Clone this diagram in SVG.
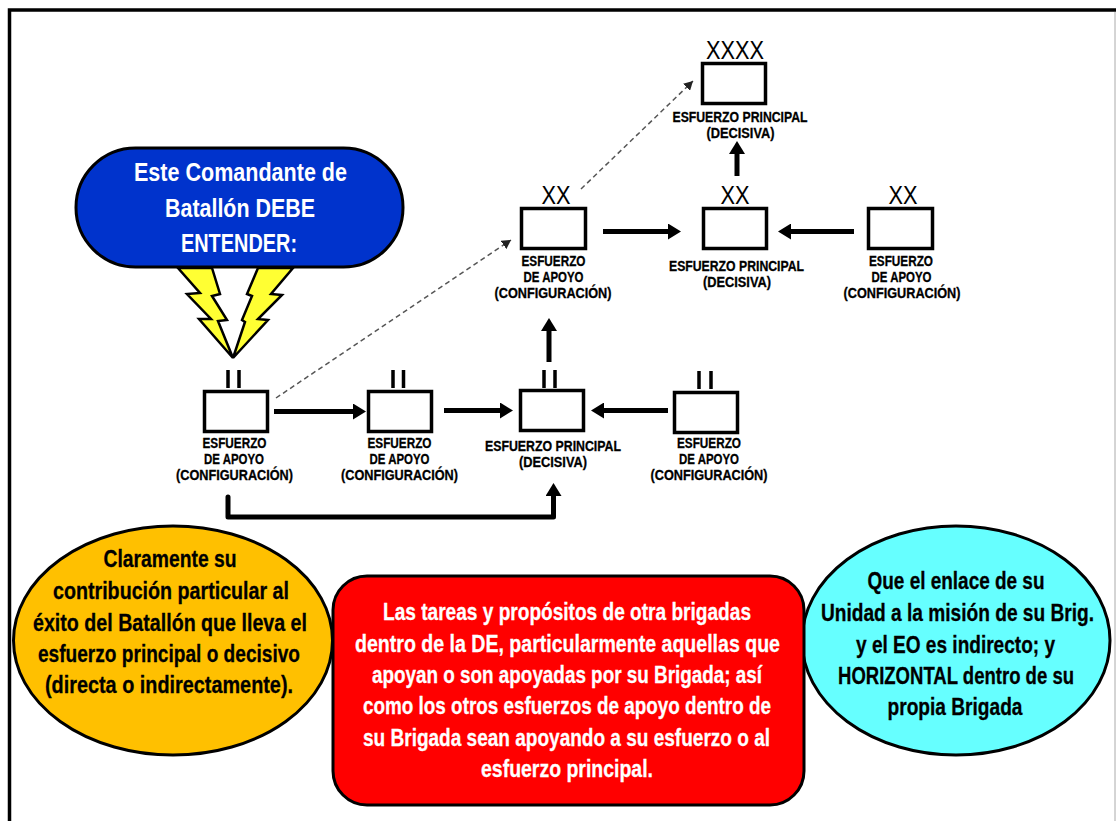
<svg xmlns="http://www.w3.org/2000/svg" width="1116" height="821" viewBox="0 0 1116 821">
<style>
text{font-family:"Liberation Sans Narrow","Liberation Sans",Arial,sans-serif;font-weight:700;text-anchor:middle}
.box{fill:#fff;stroke:#000;stroke-width:3.500}
.lab{font-size:14.500px;fill:#000;stroke:#000;stroke-width:.3}
.ech{font-family:"Liberation Sans",Arial,sans-serif;font-weight:400;font-size:25px;fill:#000}
.bar{stroke:#000;stroke-width:3.500;fill:none}
.big{font-size:26px;fill:#fff}
.red{font-size:24px;fill:#fff;stroke:#fff;stroke-width:.3}
.blk{font-size:24px;fill:#000;stroke:#000;stroke-width:.3}
.c{fill:none;stroke:#000;stroke-width:5}
.d{fill:none;stroke:#555;stroke-width:1.500;stroke-dasharray:5 3.500}
</style>
<defs>
<marker id="ah" markerUnits="userSpaceOnUse" markerWidth="14" markerHeight="16" refX="5" refY="8" orient="auto"><path d="M0 0L13 8L0 16Z" fill="#000"/></marker>
<marker id="ad" markerUnits="userSpaceOnUse" markerWidth="10" markerHeight="10" refX="9" refY="5" orient="auto"><path d="M0 0L9 5L0 10Z" fill="#222"/></marker>
</defs>
<rect width="1116" height="821" fill="#fff"/>
<path d="M9.500 821V10H1116" fill="none" stroke="#000" stroke-width="3.500"/>
<path d="M1115 12V821" fill="none" stroke="#aaa" stroke-width="1"/>
<g id="connectors">
<path class="c" d="M274 411.500H358" marker-end="url(#ah)"/>
<path class="c" d="M444 410.500H505" marker-end="url(#ah)"/>
<path class="c" d="M668 410.500H599" marker-end="url(#ah)"/>
<path class="c" d="M549 362V326" marker-end="url(#ah)"/>
<path class="c" d="M603 231.500H673" marker-end="url(#ah)"/>
<path class="c" d="M854 231.500H786" marker-end="url(#ah)"/>
<path class="c" d="M737 176V149" marker-end="url(#ah)"/>
<path class="c" d="M228 497V517H553.500V491" stroke-linecap="round" stroke-linejoin="round" marker-end="url(#ah)"/>
<path class="d" d="M276 398L511 240" marker-end="url(#ad)"/>
<path class="d" d="M581 189L693 81" marker-end="url(#ad)"/>
</g>
<g id="bolts">
<path d="M178 268H212L220 294L212 296L227 320L218 321L233 358L199 319L211 319L187 294L200 293Z" fill="#ff3" stroke="#000" stroke-width="2.500"/>
<path d="M258 268H293L271 294L282 295L258 319L268 320L233 358L245 322L242 320L252 296L247 294Z" fill="#ff3" stroke="#000" stroke-width="2.500"/>
</g>
<g id="comandante">
<rect x="76" y="148" width="327" height="119" rx="59.500" fill="#0033cc" stroke="#000" stroke-width="3"/>
<text class="big" x="240.500" y="181" textLength="213" lengthAdjust="spacingAndGlyphs">Este Comandante de</text>
<text class="big" x="240" y="217" textLength="150" lengthAdjust="spacingAndGlyphs">Batallón DEBE</text>
<text class="big" x="239" y="252" textLength="116" lengthAdjust="spacingAndGlyphs">ENTENDER:</text>
</g>
<g id="n1"><path class="bar" d="M228 370V388M239 370V388"/><rect class="box" x="204.500" y="391.500" width="63" height="40"/>
<text class="lab" x="234.500" y="448" textLength="64" lengthAdjust="spacingAndGlyphs">ESFUERZO</text><text class="lab" x="234" y="464" textLength="60" lengthAdjust="spacingAndGlyphs">DE APOYO</text><text class="lab" x="234.500" y="480" textLength="117" lengthAdjust="spacingAndGlyphs">(CONFIGURACIÓN)</text></g>
<g id="n2"><path class="bar" d="M393 370V388M403.500 370V388"/><rect class="box" x="368.500" y="391.500" width="63" height="40"/>
<text class="lab" x="399.500" y="448" textLength="64" lengthAdjust="spacingAndGlyphs">ESFUERZO</text><text class="lab" x="399.500" y="464" textLength="60" lengthAdjust="spacingAndGlyphs">DE APOYO</text><text class="lab" x="399.500" y="480" textLength="117" lengthAdjust="spacingAndGlyphs">(CONFIGURACIÓN)</text></g>
<g id="n3"><path class="bar" d="M544 370V388M555 370V388"/><rect class="box" x="520.500" y="390.500" width="63" height="40"/>
<text class="lab" x="553" y="451" textLength="136" lengthAdjust="spacingAndGlyphs">ESFUERZO PRINCIPAL</text><text class="lab" x="553" y="467" textLength="68" lengthAdjust="spacingAndGlyphs">(DECISIVA)</text></g>
<g id="n4"><path class="bar" d="M699 371V389M711 371V389"/><rect class="box" x="674.500" y="392.500" width="63" height="40"/>
<text class="lab" x="709" y="448" textLength="64" lengthAdjust="spacingAndGlyphs">ESFUERZO</text><text class="lab" x="709" y="464" textLength="60" lengthAdjust="spacingAndGlyphs">DE APOYO</text><text class="lab" x="709" y="480" textLength="117" lengthAdjust="spacingAndGlyphs">(CONFIGURACIÓN)</text></g>
<g id="n5"><text class="ech" x="556" y="204" textLength="29" lengthAdjust="spacingAndGlyphs">XX</text><rect class="box" x="521.500" y="208.500" width="64" height="40"/>
<text class="lab" x="553.500" y="266" textLength="64" lengthAdjust="spacingAndGlyphs">ESFUERZO</text><text class="lab" x="553.500" y="282" textLength="60" lengthAdjust="spacingAndGlyphs">DE APOYO</text><text class="lab" x="553" y="298" textLength="117" lengthAdjust="spacingAndGlyphs">(CONFIGURACIÓN)</text></g>
<g id="n6"><text class="ech" x="735" y="204" textLength="29" lengthAdjust="spacingAndGlyphs">XX</text><rect class="box" x="703.500" y="208.500" width="63" height="40"/>
<text class="lab" x="736.500" y="271" textLength="135" lengthAdjust="spacingAndGlyphs">ESFUERZO PRINCIPAL</text><text class="lab" x="737" y="287" textLength="68" lengthAdjust="spacingAndGlyphs">(DECISIVA)</text></g>
<g id="n7"><text class="ech" x="903" y="204" textLength="29" lengthAdjust="spacingAndGlyphs">XX</text><rect class="box" x="868.500" y="208.500" width="64" height="40"/>
<text class="lab" x="901" y="266" textLength="64" lengthAdjust="spacingAndGlyphs">ESFUERZO</text><text class="lab" x="901.500" y="282" textLength="60" lengthAdjust="spacingAndGlyphs">DE APOYO</text><text class="lab" x="902" y="298" textLength="117" lengthAdjust="spacingAndGlyphs">(CONFIGURACIÓN)</text></g>
<g id="n8"><text class="ech" x="735" y="59" textLength="58" lengthAdjust="spacingAndGlyphs">XXXX</text><rect class="box" x="702.500" y="63.500" width="63" height="40"/>
<text class="lab" x="740" y="122" textLength="135" lengthAdjust="spacingAndGlyphs">ESFUERZO PRINCIPAL</text><text class="lab" x="740.500" y="138" textLength="68" lengthAdjust="spacingAndGlyphs">(DECISIVA)</text></g>
<g id="amarillo"><ellipse cx="173" cy="640.500" rx="159.500" ry="114.500" fill="#ffc000" stroke="#000" stroke-width="3"/>
<text class="blk" x="170" y="567" textLength="133" lengthAdjust="spacingAndGlyphs">Claramente su</text>
<text class="blk" x="171" y="599" textLength="236" lengthAdjust="spacingAndGlyphs">contribución particular al</text>
<text class="blk" x="170" y="631" textLength="274" lengthAdjust="spacingAndGlyphs">éxito del Batallón que lleva el</text>
<text class="blk" x="169" y="662" textLength="262" lengthAdjust="spacingAndGlyphs">esfuerzo principal o decisivo</text>
<text class="blk" x="169" y="693" textLength="248" lengthAdjust="spacingAndGlyphs">(directa o indirectamente).</text></g>
<g id="cian"><ellipse cx="956" cy="640.500" rx="154" ry="114.500" fill="#66ffff" stroke="#000" stroke-width="3"/>
<text class="blk" x="956" y="589" textLength="177" lengthAdjust="spacingAndGlyphs">Que el enlace de su</text>
<text class="blk" x="957.500" y="621" textLength="273" lengthAdjust="spacingAndGlyphs">Unidad a la misión de su Brig.</text>
<text class="blk" x="955.500" y="653" textLength="199" lengthAdjust="spacingAndGlyphs">y el EO es indirecto; y</text>
<text class="blk" x="956" y="684" textLength="236" lengthAdjust="spacingAndGlyphs">HORIZONTAL dentro de su</text>
<text class="blk" x="955" y="715" textLength="135" lengthAdjust="spacingAndGlyphs">propia Brigada</text></g>
<g id="rojo"><rect x="333" y="576" width="471" height="229" rx="34" fill="#ff0000" stroke="#000" stroke-width="3"/>
<text class="red" x="567" y="620" textLength="368" lengthAdjust="spacingAndGlyphs">Las tareas y propósitos de otra brigadas</text>
<text class="red" x="567.500" y="652" textLength="425" lengthAdjust="spacingAndGlyphs">dentro de la DE, particularmente aquellas que</text>
<text class="red" x="567" y="683" textLength="390" lengthAdjust="spacingAndGlyphs">apoyan o son apoyadas por su Brigada; así</text>
<text class="red" x="567" y="714" textLength="408" lengthAdjust="spacingAndGlyphs">como los otros esfuerzos de apoyo dentro de</text>
<text class="red" x="566.500" y="746" textLength="407" lengthAdjust="spacingAndGlyphs">su Brigada sean apoyando a su esfuerzo o al</text>
<text class="red" x="567" y="777" textLength="172" lengthAdjust="spacingAndGlyphs">esfuerzo principal.</text></g>
</svg>
